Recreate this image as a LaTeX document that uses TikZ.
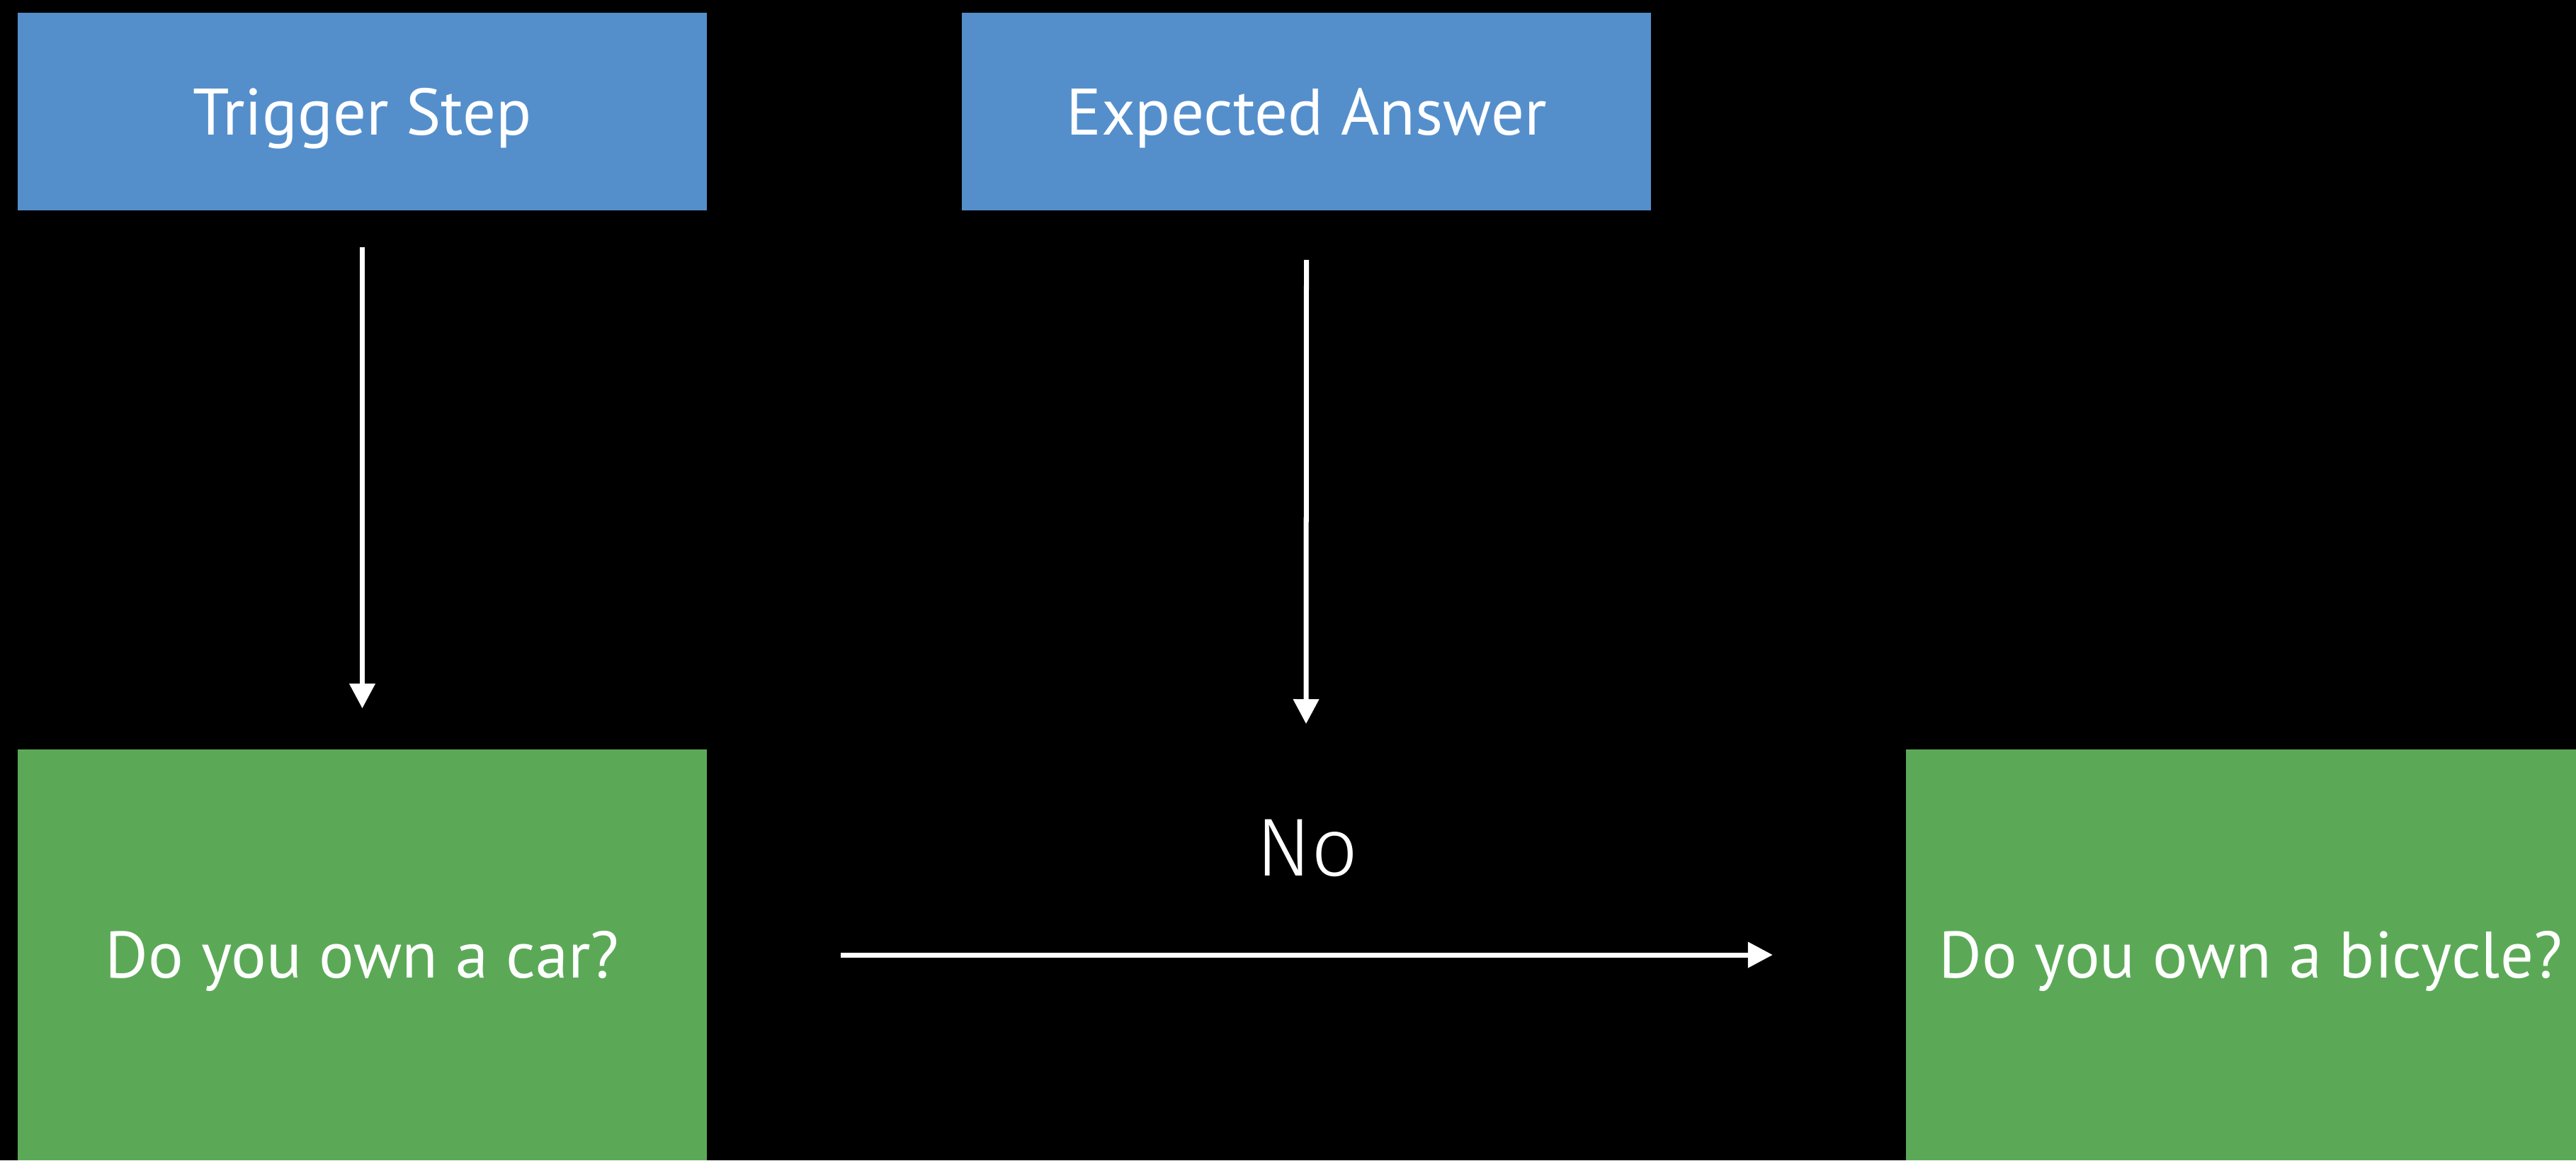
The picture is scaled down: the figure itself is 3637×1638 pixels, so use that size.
\documentclass[tikz,border=0pt]{standalone}
\usepackage{fontspec}
\setmainfont{PT Sans}
\newfontfamily\thinfont{Fira Sans Light}
\usetikzlibrary{arrows.meta}
\definecolor{stepblue}{RGB}{84,143,204}
\definecolor{askgreen}{RGB}{91,169,87}
\begin{document}
\begin{tikzpicture}[x=0.01cm,y=-0.01cm,
  box/.style={draw=none,inner sep=0pt,text=white,
    font=\fontsize{26.4}{30}\selectfont,
    text height=0.65cm,text depth=0pt},
  header/.style={box,fill=stepblue,minimum width=9.73cm,minimum height=2.79cm},
  question/.style={box,fill=askgreen,minimum width=9.73cm,minimum height=5.80cm},
  flow/.style={draw=white,line width=0.07cm,
    -{Triangle[length=0.35cm,width=0.35cm]}}]
  % canvas
  \fill[black] (0,0) rectangle (3637,1638);
  \useasboundingbox (0,0) rectangle (3637,1638);

  % step headers
  \node[header] (trig) at (511.5,157.5) {Trigger Step};
  \node[header] (expect) at (1844.5,157.5) {Expected Answer};

  % questions
  \node[question] (car) at (511.5,1348) {Do you own a car?};
  \begin{scope}
    \clip (0,0) rectangle (3637,1638);
    \node[question] (bike) at (3177.5,1348) {Do you own a bicycle?};
  \end{scope}

  % connectors
  \coordinate (expectEnd) at (1844,1022);
  \draw[flow] ([yshift=-0.51cm]trig.south) -- ([yshift=0.57cm]car.north);
  \draw[flow] ([yshift=-0.69cm]expect.south) -- (expectEnd);
  \draw[flow] ([xshift=1.88cm]car.east) -- ([xshift=-1.87cm]bike.west);

  % answer label
  \node[anchor=base,text=white,inner sep=0pt,
    font=\thinfont\fontsize{33}{36}\selectfont] (no) at (1846,1236) {No};
\end{tikzpicture}
\end{document}
